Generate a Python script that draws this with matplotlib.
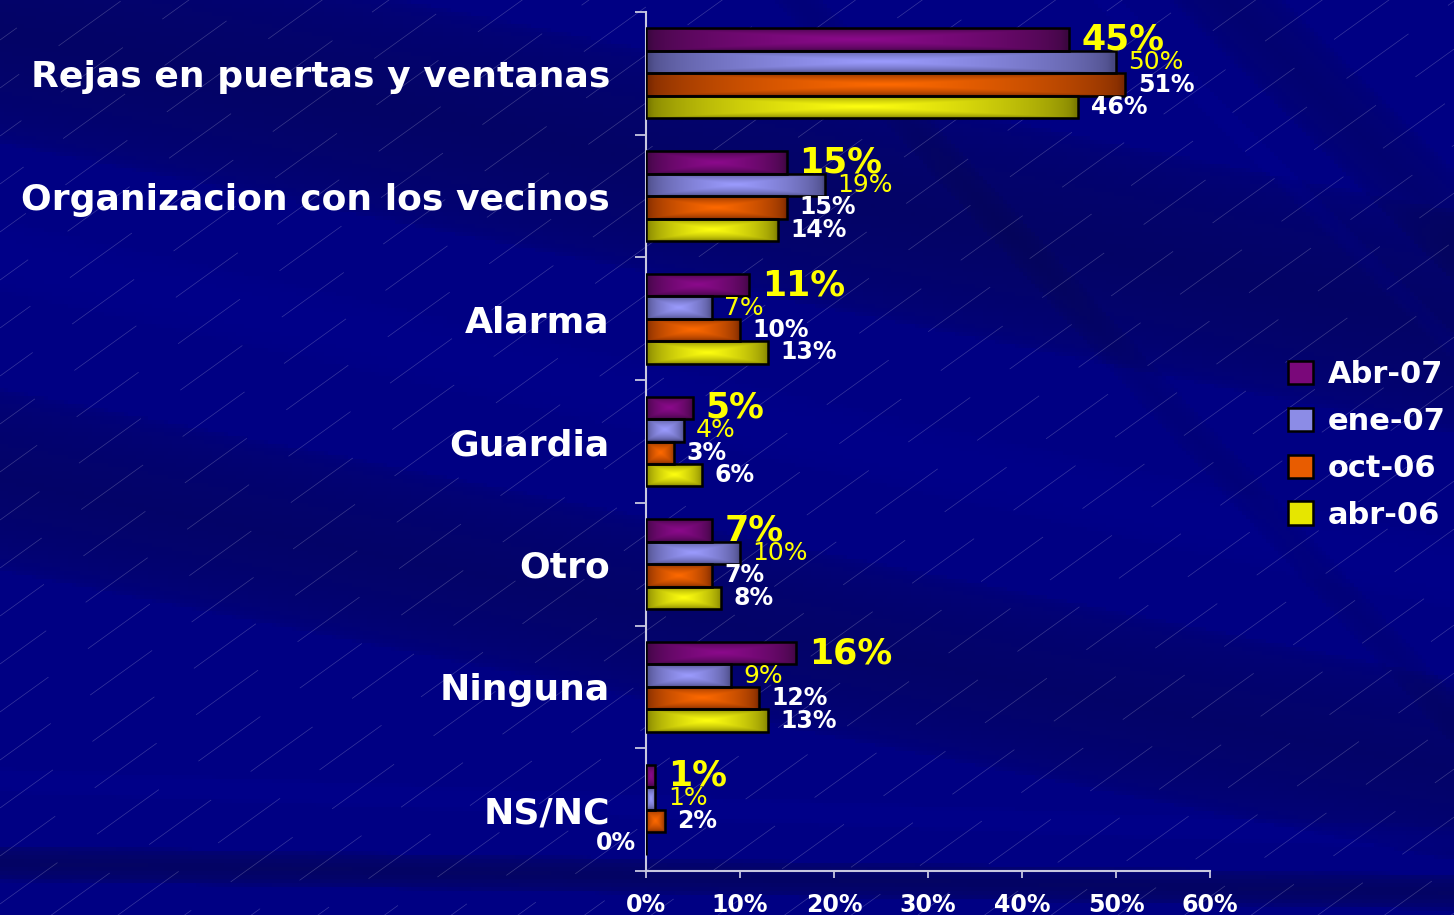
import numpy as np
import matplotlib
matplotlib.use('Agg')
import matplotlib.pyplot as plt
from matplotlib.patches import Rectangle

## Data
categories = ['Rejas en puertas y ventanas', 'Organizacion con los vecinos', 'Alarma',
              'Guardia', 'Otro', 'Ninguna', 'NS/NC']
series = ['Abr-07', 'ene-07', 'oct-06', 'abr-06']
abr07 = [45, 15, 11, 5, 7, 16, 1]
ene07 = [50, 19, 7, 4, 10, 9, 1]
oct06 = [51, 15, 10, 3, 7, 12, 2]
abr06 = [46, 14, 13, 6, 8, 13, 0]
xticks = [0, 10, 20, 30, 40, 50, 60]

## Styling
W, H = 1454, 915
plt.rcParams['font.family'] = 'DejaVu Sans'
plt.rcParams['lines.scale_dashes'] = False

# (dark end, bright center) of each bar gradient
bar_colors = [('#3c0640', '#8c0a8c'),
              ('#484880', '#9c9cff'),
              ('#7a2800', '#ff6a00'),
              ('#7a7a00', '#ffff10')]
legend_colors = ['#7a087a', '#8c8ce6', '#e85c00', '#e6e600']
# value label style per series: (colour, size, weight)
label_style = [('#ffff00', 25, 'bold'),
               ('#ffff00', 18, 'normal'),
               ('white', 17, 'bold'),
               ('white', 17, 'bold')]
axis_col = '#c8c8e0'

fig = plt.figure(figsize=(W / 100, H / 100), dpi=100)

## Background: dark blue with diagonal bands and thin dashed lines
bg = fig.add_axes([0, 0, 1, 1], zorder=-10)
gx, gy = np.meshgrid(np.linspace(0, W, 364), np.linspace(0, H, 229))
d = np.full(gx.shape, 0.08)
# bands: (y at x=0, slope, half width, darkness)
bands = [(30, 0.20, 110, 0.55), (480, 0.20, 90, 0.5), (865, 0.02, 18, 0.6),
         (255, 0.22, 35, -0.1), (782, 0.04, 12, -0.12),
         (-1230, 1.0, 40, 0.35), (-1110, 1.0, 10, -0.15), (-880, 1.1, 18, 0.2)]
for y0, sl, hw, k in bands:
    dist = np.abs(gy - (y0 + sl * gx)) / np.sqrt(1 + sl ** 2)
    d += k * np.clip(1 - dist / hw, 0, 1) ** 0.35
d = np.clip(d, 0, 1)[..., None]
dark = np.array([6, 6, 82]) / 255
light = np.array([0, 0, 136]) / 255
bg.imshow(light + (dark - light) * d, extent=(0, W, H, 0), aspect='auto')
xs = np.array([0, W])
for c in range(-200, 2000, 48):
    bg.plot(xs, c - 0.72 * xs, color='white', lw=0.5, alpha=0.22,
            linestyle=(c % 50, (55, 35)))
bg.set_xlim(0, W)
bg.set_ylim(H, 0)
bg.axis('off')

## Main axes
ax = fig.add_axes([646 / W, 1 - 871 / H, 564 / W, 859 / H])
ax.set_facecolor('none')

values = [abr07, ene07, oct06, abr06]
y = np.arange(len(categories))
h = 0.183
nu, nv = 80, 24
u = np.abs(np.linspace(-1, 1, nu))[None, :]
v = np.abs(np.linspace(-1, 1, nv))[:, None]
t = (1 - np.maximum(u, v)) ** 0.55

for j, vals in enumerate(values):
    yy = y + (j - 1.5) * h
    bars = ax.barh(yy, vals, height=h, facecolor='none', edgecolor='black',
                   linewidth=1.8, zorder=3)
    c0 = np.array(matplotlib.colors.to_rgb(bar_colors[j][0]))
    c1 = np.array(matplotlib.colors.to_rgb(bar_colors[j][1]))
    grad = c0 + (c1 - c0) * t[..., None]
    for p, val in zip(bars.patches, vals):
        if val <= 0:
            continue
        x0, y0 = p.get_x(), p.get_y()
        im = ax.imshow(grad, extent=(x0, x0 + p.get_width(), y0 + p.get_height(), y0),
                       aspect='auto', zorder=2, interpolation='bilinear')
        im.set_clip_path(p)
    col, fs, fw = label_style[j]
    for val, yc in zip(vals, yy):
        if val > 0:
            ax.annotate(f'{val}%', xy=(val, yc), xytext=(9, 0), textcoords='offset points',
                        ha='left', va='center', color=col, fontsize=fs, fontweight=fw,
                        zorder=5)
        else:
            ax.annotate(f'{val}%', xy=(0, yc), xytext=(-7, 0), textcoords='offset points',
                        ha='right', va='center', color=col, fontsize=fs, fontweight=fw,
                        zorder=5)

ax.set_xlim(0, 60)
ax.set_ylim(6.5, -0.5)
ax.set_aspect('auto')

ax.set_yticks(y)
ax.set_yticklabels(categories, color='white', fontsize=26, fontweight='bold')
ax.set_yticks(np.arange(-0.5, 7, 1), minor=True)
ax.tick_params(axis='y', which='major', length=0, pad=26)
ax.tick_params(axis='y', which='minor', length=8, width=1.3, color=axis_col)

ax.set_xticks(xticks)
ax.set_xticklabels([f'{x}%' for x in xticks], color='white', fontsize=17, fontweight='bold')
ax.tick_params(axis='x', length=5, width=1.3, color=axis_col, pad=11)

for s in ['top', 'right']:
    ax.spines[s].set_visible(False)
for s in ['left', 'bottom']:
    ax.spines[s].set_color(axis_col)
    ax.spines[s].set_linewidth(1.5)

## Legend
handles = [Rectangle((0, 0), 1, 1, facecolor=c, edgecolor='black', linewidth=1.8)
           for c in legend_colors]
leg = fig.legend(handles, series, loc='center left', bbox_to_anchor=(1276 / W, 1 - 445 / H),
                 frameon=False, labelcolor='white', handlelength=0.8, handleheight=0.8,
                 handletextpad=0.5, labelspacing=0.58, borderaxespad=0,
                 prop={'size': 22, 'weight': 'bold'})

fig.savefig('out.png', dpi=100)
